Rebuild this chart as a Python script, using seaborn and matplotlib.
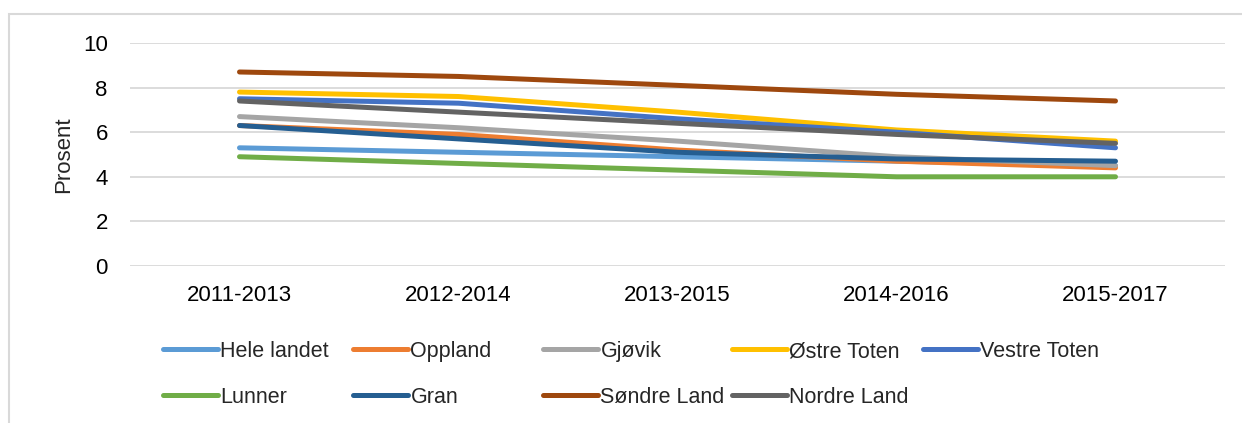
import seaborn as sns
import matplotlib.pyplot as plt
from matplotlib.patches import Rectangle
import pandas as pd

# Periods on the x axis
periods = ["2011-2013", "2012-2014", "2013-2015", "2014-2016", "2015-2017"]

# Values per area (Prosent)
hele_landet = [5.3, 5.1, 4.9, 4.7, 4.5]
oppland = [6.3, 5.9, 5.2, 4.7, 4.4]
gjovik = [6.7, 6.2, 5.6, 4.9, 4.5]
ostre_toten = [7.8, 7.6, 6.9, 6.1, 5.6]
vestre_toten = [7.5, 7.3, 6.6, 6.0, 5.3]
lunner = [4.9, 4.6, 4.3, 4.0, 4.0]
gran = [6.3, 5.7, 5.1, 4.8, 4.7]
sondre_land = [8.7, 8.5, 8.1, 7.7, 7.4]
nordre_land = [7.4, 6.9, 6.4, 5.9, 5.5]

series = {
    "Hele landet": hele_landet,
    "Oppland": oppland,
    "Gjøvik": gjovik,
    "Østre Toten": ostre_toten,
    "Vestre Toten": vestre_toten,
    "Lunner": lunner,
    "Gran": gran,
    "Søndre Land": sondre_land,
    "Nordre Land": nordre_land,
}

colors = {
    "Hele landet": "#5B9BD5",
    "Oppland": "#ED7D31",
    "Gjøvik": "#A5A5A5",
    "Østre Toten": "#FFC000",
    "Vestre Toten": "#4472C4",
    "Lunner": "#70AD47",
    "Gran": "#255E91",
    "Søndre Land": "#9E480E",
    "Nordre Land": "#636363",
}

# Long-form table for seaborn
rows = []
for name, vals in series.items():
    for p, v in zip(periods, vals):
        rows.append({"Periode": p, "Prosent": v, "Område": name})
df = pd.DataFrame(rows)

sns.set_style("white")
plt.rcParams["font.family"] = ["Liberation Sans", "DejaVu Sans"]

fig = plt.figure(figsize=(12.42, 4.23), dpi=100)
ax = fig.add_axes([130 / 1242, 1 - 266 / 423, (1225 - 130) / 1242, (266 - 43) / 423])

sns.lineplot(
    data=df,
    x="Periode",
    y="Prosent",
    hue="Område",
    hue_order=list(series.keys()),
    palette=colors,
    linewidth=3.6,
    sort=False,
    legend=False,
    ax=ax,
)
for line in ax.get_lines():
    line.set_solid_capstyle("round")

ax.set_xlim(-0.5, len(periods) - 0.5)
ax.set_ylim(0, 10)
ax.set_yticks(range(0, 11, 2))
ax.grid(axis="y", color="#D9D9D9", linewidth=1.3)
ax.set_axisbelow(True)
for s in ax.spines.values():
    s.set_visible(False)
ax.tick_params(axis="both", length=0, labelsize=16, colors="black")
ax.tick_params(axis="y", pad=16)
ax.tick_params(axis="x", pad=14)
ax.set_xlabel("")
ax.set_ylabel("Prosent", fontsize=16, labelpad=6)

# Legend: five columns, two rows, like Excel
handles = {l: plt.Line2D([], [], color=c, linewidth=3.6, solid_capstyle="round")
           for l, c in colors.items()}
leg_cols = [["Hele landet", "Lunner"], ["Oppland", "Gran"], ["Gjøvik", "Søndre Land"],
            ["Østre Toten", "Nordre Land"], ["Vestre Toten"]]
col_x = [163, 353, 543, 732, 923]
for names, x in zip(leg_cols, col_x):
    fig.legend(
        [handles[k] for k in names],
        names,
        loc="upper left",
        bbox_to_anchor=(x / 1242, 1 - 341 / 423),
        frameon=False,
        fontsize=15.5,
        handlelength=2.55,
        handletextpad=0.12,
        labelspacing=1.15,
        borderpad=0,
        borderaxespad=0,
    )

# Light chart-area frame
fig.patches.append(Rectangle((9 / 1242, -0.05), 1.1, 1 - 14 / 423 + 0.05,
                             transform=fig.transFigure, fill=False,
                             edgecolor="#D9D9D9", linewidth=1.5))

fig.savefig("out.png", dpi=100)
